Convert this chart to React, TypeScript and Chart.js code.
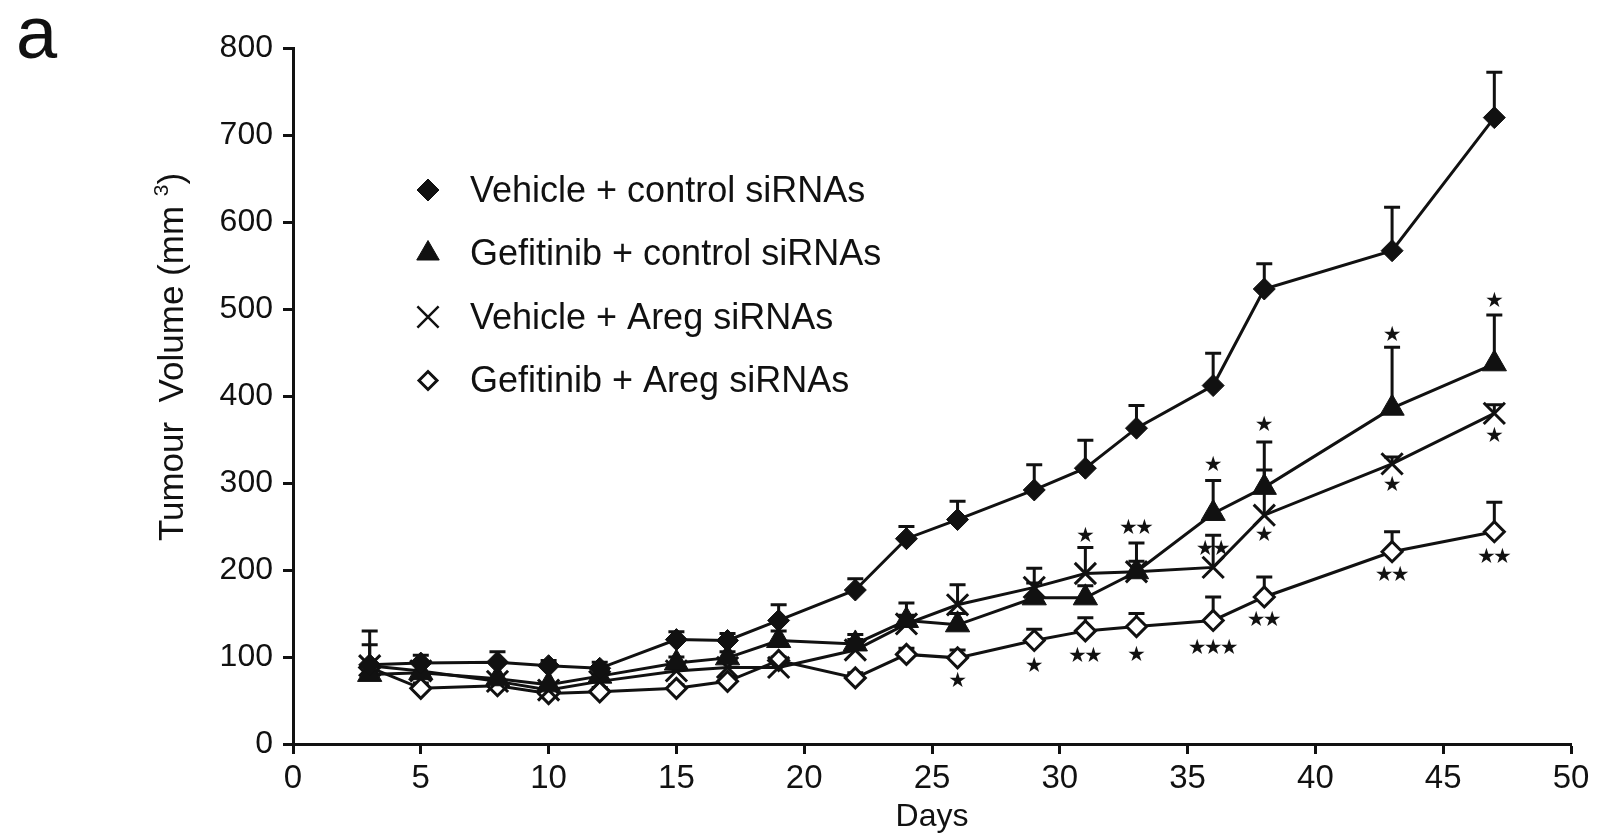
import React, { useEffect, useRef } from 'react';
import { Chart, registerables } from 'chart.js';
import { drawPoint } from 'chart.js/helpers';

Chart.register(...registerables);

const days = [3, 5, 8, 10, 12, 15, 17, 19, 22, 24, 26, 29, 31, 33, 36, 38, 43, 47];

const seriesLabels = [
  'Vehicle + control siRNAs',
  'Gefitinib + control siRNAs',
  'Vehicle + Areg siRNAs',
  'Gefitinib + Areg siRNAs',
];

const vehicleControl = [91, 93, 94, 90, 87, 120, 119, 142, 177, 236, 258, 292, 317, 363, 412, 523, 567, 720];
const gefitinibControl = [80, 82, 75, 68, 78, 93, 99, 119, 115, 142, 137, 168, 168, 198, 265, 295, 386, 437];
const vehicleAreg = [90, 84, 72, 62, 72, 84, 88, 88, 108, 138, 160, 180, 196, 198, 203, 263, 322, 380];
const gefitinibAreg = [88, 64, 67, 58, 60, 64, 72, 96, 76, 103, 99, 119, 130, 135, 142, 169, 221, 244];

// upper end of the error bars (null = none visible)
const vehicleControlTop = [114, 102, 106, 96, 94, 129, 127, 160, 190, 250, 279, 321, 349, 389, 449, 552, 617, 772];
const gefitinibControlTop = [null, null, null, null, null, 100, 106, 130, 126, 162, 150, 185, 182, 210, 303, 347, 456, 493];
const vehicleAregTop = [130, null, null, null, null, null, null, null, 120, 148, 183, 202, 226, 231, 240, 315, 330, 390];
const gefitinibAregTop = [null, 70, 73, 63, 65, 68, 78, 100, 82, 110, 108, 132, 145, 150, 169, 192, 244, 278];

// significance marks: day, value where the mark sits, text
const sigDays = [26, 29, 31, 31, 33, 33, 36, 36, 36, 38, 38, 38, 43, 43, 43, 47, 47, 47];
const sigValues = [72, 89, 100, 238, 102, 248, 110, 223, 320, 142, 240, 366, 194, 297, 470, 214, 353, 508];
const sigMarks = ['*', '*', '**', '*', '*', '**', '***', '**', '*', '**', '*', '*', '**', '*', '*', '**', '*', '*'];

const xTicks = [0, 5, 10, 15, 20, 25, 30, 35, 40, 45, 50];
const yTicks = [0, 100, 200, 300, 400, 500, 600, 700, 800];

const FONT = '"Liberation Sans", Arial, Helvetica, sans-serif';
const INK = '#111';

const seriesValues = [vehicleControl, gefitinibControl, vehicleAreg, gefitinibAreg];
const errorTops = [vehicleControlTop, gefitinibControlTop, vehicleAregTop, gefitinibAregTop];

const errorBarPlugin = {
  id: 'errorBars',
  beforeDatasetsDraw(chart: any) {
    const { ctx, scales } = chart;
    ctx.save();
    ctx.strokeStyle = INK;
    ctx.lineWidth = 3;
    errorTops.forEach((tops, s) => {
      const vals = seriesValues[s];
      tops.forEach((top, j) => {
        if (top == null) return;
        const x = scales.x.getPixelForValue(days[j]);
        const yv = scales.y.getPixelForValue(vals[j]);
        const yt = scales.y.getPixelForValue(top);
        ctx.beginPath();
        ctx.moveTo(x, yv);
        ctx.lineTo(x, yt);
        ctx.moveTo(x - 8, yt);
        ctx.lineTo(x + 8, yt);
        ctx.stroke();
      });
    });
    ctx.restore();
  },
};

const starsPlugin = {
  id: 'stars',
  afterDatasetsDraw(chart: any) {
    const { ctx, scales } = chart;
    ctx.save();
    ctx.fillStyle = INK;
    ctx.font = '21px "DejaVu Sans", sans-serif';
    ctx.textAlign = 'center';
    ctx.textBaseline = 'middle';
    sigMarks.forEach((m, i) => {
      const cx = scales.x.getPixelForValue(sigDays[i]);
      const cy = scales.y.getPixelForValue(sigValues[i]);
      const n = m.length;
      for (let k = 0; k < n; k++) {
        const dx = (k - (n - 1) / 2) * 16;
        ctx.fillText('\u2605', cx + dx, cy);
      }
    });
    ctx.restore();
  },
};

const decorPlugin = {
  id: 'decor',
  afterDraw(chart: any) {
    const { ctx } = chart;
    ctx.save();
    // panel letter
    ctx.fillStyle = INK;
    ctx.font = `74px ${FONT}`;
    ctx.textAlign = 'left';
    ctx.textBaseline = 'alphabetic';
    ctx.fillText('a', 16, 58);

    // y-axis title with superscript
    const main = 'Tumour  Volume (mm ';
    const sup = '3';
    const close = ')';
    ctx.translate(183, 357);
    ctx.rotate(-Math.PI / 2);
    ctx.font = `35px ${FONT}`;
    const wMain = ctx.measureText(main).width;
    const wClose = ctx.measureText(close).width;
    ctx.font = `21px ${FONT}`;
    const wSup = ctx.measureText(sup).width;
    const total = wMain + wSup + wClose;
    let x = -total / 2;
    ctx.font = `35px ${FONT}`;
    ctx.fillText(main, x, 0);
    x += wMain;
    ctx.font = `21px ${FONT}`;
    ctx.fillText(sup, x, -15);
    x += wSup;
    ctx.font = `35px ${FONT}`;
    ctx.fillText(close, x, 0);
    ctx.restore();

    // legend
    ctx.save();
    ctx.font = `36px ${FONT}`;
    ctx.textBaseline = 'middle';
    ctx.textAlign = 'left';
    chart.data.datasets.forEach((ds: any, i: number) => {
      const y = 190 + i * 63.5;
      ctx.strokeStyle = INK;
      ctx.fillStyle = ds.pointBackgroundColor;
      ctx.lineWidth = ds.legendBorder;
      drawPoint(ctx, { pointStyle: ds.pointStyle, radius: ds.legendRadius, rotation: 0, borderWidth: ds.legendBorder }, 428, y);
      ctx.fillStyle = INK;
      ctx.fillText(ds.label, 470, y + 2);
    });
    ctx.restore();
  },
};

export default function App() {
  const ref = useRef<HTMLCanvasElement>(null);
  useEffect(() => {
    if (!ref.current) return;
    const mk = (label: string, data: number[], style: string, radius: number, fill: string, pbw: number, legendRadius: number, legendBorder: number) => ({
      label,
      data: data.map((v, i) => ({ x: days[i], y: v })),
      borderColor: INK,
      borderWidth: 3,
      pointStyle: style,
      pointRadius: radius,
      pointBackgroundColor: fill,
      pointBorderColor: INK,
      pointBorderWidth: pbw,
      tension: 0,
      fill: false,
      legendRadius,
      legendBorder,
    });
    const chart = new Chart(ref.current, {
      type: 'line',
      data: {
        datasets: [
          mk(seriesLabels[0], vehicleControl, 'rectRot', 11, INK, 1, 11, 1),
          mk(seriesLabels[1], gefitinibControl, 'triangle', 14, INK, 1, 13, 1),
          mk(seriesLabels[2], vehicleAreg, 'crossRot', 15, INK, 3, 15, 2.5),
          mk(seriesLabels[3], gefitinibAreg, 'rectRot', 10, '#fff', 3, 9, 3),
        ] as any,
      },
      options: {
        animation: false,
        responsive: false,
        maintainAspectRatio: false,
        layout: { padding: { top: 48, right: 27, left: 0, bottom: 0 } },
        plugins: { legend: { display: false }, tooltip: { enabled: false } },
        scales: {
          x: {
            type: 'linear',
            min: 0,
            max: 50,
            afterBuildTicks: (s: any) => { s.ticks = xTicks.map((v) => ({ value: v })); },
            afterFit: (s: any) => { s.height = 95; },
            ticks: { color: INK, font: { family: FONT, size: 33 }, padding: 5, maxRotation: 0 },
            grid: { drawOnChartArea: false, tickLength: 10, tickWidth: 3, tickColor: INK },
            border: { color: INK, width: 3 },
            title: { display: true, text: 'Days', color: INK, font: { family: FONT, size: 32 }, padding: { top: 0, bottom: 3 } },
          },
          y: {
            type: 'linear',
            min: 0,
            max: 800,
            afterBuildTicks: (s: any) => { s.ticks = yTicks.map((v) => ({ value: v })); },
            afterFit: (s: any) => { s.width = 293; },
            ticks: { color: INK, font: { family: FONT, size: 32 }, padding: 10 },
            grid: { drawOnChartArea: false, tickLength: 10, tickWidth: 3, tickColor: INK },
            border: { color: INK, width: 3 },
          },
        },
      },
      plugins: [errorBarPlugin, starsPlugin, decorPlugin],
    });
    return () => chart.destroy();
  }, []);
  return (
    <div style={{ position: 'absolute', left: 0, top: 0, width: 1598, height: 839, background: '#fff' }}>
      <canvas ref={ref} width={1598} height={839} />
    </div>
  );
}
